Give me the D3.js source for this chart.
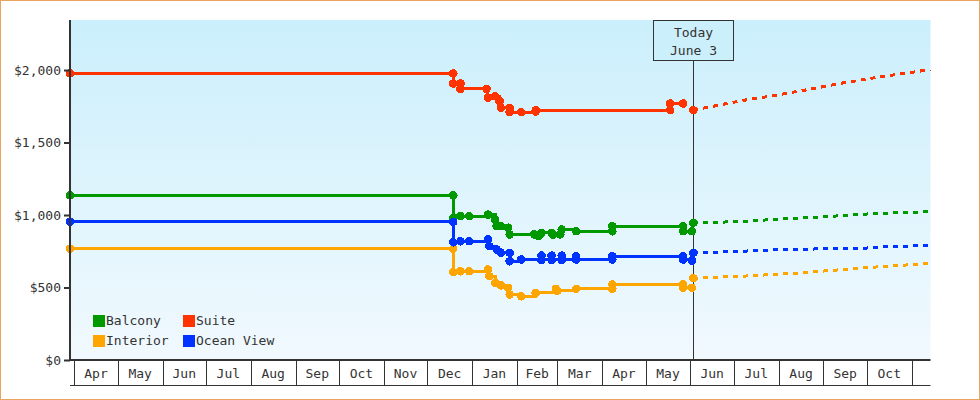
<!DOCTYPE html>
<html>
<head>
<meta charset="utf-8">
<script src="https://cdn.jsdelivr.net/npm/d3@7"></script>
<style>
    body { margin: 0; background: #fff; }
    text { font-family: "DejaVu Sans Mono", monospace; font-size: 13px; fill: #333; }
</style>
</head>
<body>
<div id="chart-area"></div>
<script>

// price history per cabin type: [date, price]
var balconyHistory = [
    ["2014-03-29", 1135], ["2014-12-19", 1135], ["2014-12-19", 981], ["2014-12-24", 992],
    ["2014-12-30", 992], ["2015-01-12", 1003], ["2015-01-17", 969], ["2015-01-18", 923],
    ["2015-01-21", 923], ["2015-01-26", 912], ["2015-01-27", 866], ["2015-02-13", 866],
    ["2015-02-16", 854], ["2015-02-18", 877], ["2015-02-25", 877], ["2015-02-26", 862],
    ["2015-03-03", 866], ["2015-03-04", 900], ["2015-03-14", 888], ["2015-04-08", 888],
    ["2015-04-08", 923], ["2015-05-27", 923], ["2015-05-27", 888], ["2015-06-02", 888]
];
var suiteHistory = [
    ["2014-03-29", 1976], ["2014-12-19", 1976], ["2014-12-19", 1907], ["2014-12-24", 1907],
    ["2014-12-24", 1870], ["2015-01-11", 1870], ["2015-01-12", 1808], ["2015-01-17", 1819],
    ["2015-01-20", 1786], ["2015-01-21", 1739], ["2015-01-27", 1739], ["2015-01-27", 1709],
    ["2015-02-04", 1709], ["2015-02-14", 1714], ["2015-02-14", 1723], ["2015-05-18", 1723],
    ["2015-05-18", 1769], ["2015-05-27", 1769]
];
var interiorHistory = [
    ["2014-03-29", 767], ["2014-12-19", 767], ["2014-12-19", 606], ["2014-12-24", 612],
    ["2014-12-30", 612], ["2015-01-12", 624], ["2015-01-13", 578], ["2015-01-17", 532],
    ["2015-01-21", 514], ["2015-01-26", 498], ["2015-01-27", 452], ["2015-02-04", 439],
    ["2015-02-14", 463], ["2015-02-28", 491], ["2015-03-01", 478], ["2015-03-14", 491],
    ["2015-04-08", 491], ["2015-04-08", 521], ["2015-05-27", 521], ["2015-05-27", 498],
    ["2015-06-02", 498]
];
var oceanViewHistory = [
    ["2014-03-29", 953], ["2014-12-19", 953], ["2014-12-19", 812], ["2014-12-24", 819],
    ["2014-12-30", 819], ["2015-01-12", 831], ["2015-01-13", 785], ["2015-01-18", 762],
    ["2015-01-21", 739], ["2015-01-27", 739], ["2015-01-27", 681], ["2015-02-04", 693],
    ["2015-02-18", 720], ["2015-02-18", 690], ["2015-02-25", 720], ["2015-02-25", 690],
    ["2015-03-04", 720], ["2015-03-04", 690], ["2015-03-14", 716], ["2015-03-14", 693],
    ["2015-04-08", 693], ["2015-04-08", 716], ["2015-05-27", 716], ["2015-05-27", 693],
    ["2015-06-02", 686]
];

// projected prices from today on
var balconyForecast = [
    ["2015-06-03", 946], ["2015-07-07", 955], ["2015-08-04", 974], ["2015-09-02", 988],
    ["2015-09-29", 1006], ["2015-11-14", 1024]
];
var suiteForecast = [
    ["2015-06-03", 1723], ["2015-07-07", 1790], ["2015-07-29", 1824], ["2015-08-19", 1861],
    ["2015-09-15", 1912], ["2015-10-13", 1957], ["2015-11-14", 2003]
];
var interiorForecast = [
    ["2015-06-03", 564], ["2015-07-07", 578], ["2015-07-29", 590], ["2015-08-19", 603],
    ["2015-09-08", 619], ["2015-09-29", 636], ["2015-10-20", 650], ["2015-11-14", 666]
];
var oceanViewForecast = [
    ["2015-06-03", 739], ["2015-07-06", 750], ["2015-08-04", 762], ["2015-09-29", 771],
    ["2015-10-13", 781], ["2015-11-14", 790]
];

var seriesNames = ["Balcony", "Suite", "Interior", "Ocean View"];
var seriesColors = ["#009900", "#ff3300", "#ffa500", "#0033ff"];
var yTicks = [0, 500, 1000, 1500, 2000];
var dateRange = ["2014-03-29", "2015-11-14"];
var today = "2015-06-03";
var todayLabel = ["Today", "June 3"];

var parseDate = d3.utcParse("%Y-%m-%d");

function toPoints(rows) {
    return rows.map(function(r) { return { date: parseDate(r[0]), price: r[1] }; });
}

var series = [
    { name: "Balcony", history: toPoints(balconyHistory), forecast: toPoints(balconyForecast) },
    { name: "Suite", history: toPoints(suiteHistory), forecast: toPoints(suiteForecast) },
    { name: "Interior", history: toPoints(interiorHistory), forecast: toPoints(interiorForecast) },
    { name: "Ocean View", history: toPoints(oceanViewHistory), forecast: toPoints(oceanViewForecast) }
];

var margin = { top: 20, right: 49.5, bottom: 40, left: 70 },
    width = 980 - margin.left - margin.right,
    height = 400 - margin.top - margin.bottom;

var color = d3.scaleOrdinal().domain(seriesNames).range(seriesColors);

var x = d3.scaleUtc()
    .domain([parseDate(dateRange[0]), parseDate(dateRange[1])])
    .range([0, width]);

var y = d3.scaleLinear()
    .domain([0, 2345])
    .range([height, 0]);

var root = d3.select("#chart-area")
    .append("svg")
    .attr("width", 980)
    .attr("height", 400);

var defs = root.append("defs");
var bgGradient = defs.append("linearGradient")
    .attr("id", "bg-gradient")
    .attr("x1", "0%").attr("y1", "0%")
    .attr("x2", "0%").attr("y2", "100%");
bgGradient.append("stop").attr("offset", "0%").attr("stop-color", "#cbeffc");
bgGradient.append("stop").attr("offset", "100%").attr("stop-color", "#f1f9fe");

var svg = root.append("g")
    .attr("transform", "translate(" + margin.left + "," + margin.top + ")");

svg.append("rect")
    .attr("x", 0)
    .attr("y", 0)
    .attr("width", width)
    .attr("height", height)
    .attr("fill", "url(#bg-gradient)");

// today marker line
var todayX = Math.round(x(parseDate(today))) + 0.5;
svg.append("line")
    .attr("x1", todayX).attr("x2", todayX)
    .attr("y1", 40.5).attr("y2", height)
    .attr("stroke", "#333")
    .attr("stroke-width", 1);

var stepLine = d3.line()
    .curve(d3.curveStepAfter)
    .x(function(d) { return x(d.date); })
    .y(function(d) { return y(d.price); });

var forecastLine = d3.line()
    .x(function(d) { return x(d.date); })
    .y(function(d) { return y(d.price); });

var groups = svg.selectAll(".series")
    .data(series)
    .enter().append("g")
    .attr("class", "series");

groups.append("path")
    .attr("d", function(d) { return forecastLine(d.forecast); })
    .attr("fill", "none")
    .attr("stroke", function(d) { return color(d.name); })
    .attr("stroke-width", 3)
    .attr("stroke-dasharray", "5,5")
    .style("shape-rendering", "crispEdges");

groups.append("path")
    .attr("d", function(d) { return stepLine(d.history); })
    .attr("fill", "none")
    .attr("stroke", function(d) { return color(d.name); })
    .attr("stroke-width", 3)
    .style("shape-rendering", "crispEdges");

groups.selectAll("circle")
    .data(function(d) {
        return d.history.concat([d.forecast[0]]).map(function(p) {
            return { date: p.date, price: p.price, name: d.name };
        });
    })
    .enter().append("circle")
    .attr("cx", function(d) { return x(d.date); })
    .attr("cy", function(d) { return y(d.price); })
    .attr("r", 4.3)
    .attr("fill", function(d) { return color(d.name); })
    .style("shape-rendering", "crispEdges");

// today box
var todayBox = svg.append("g")
    .attr("transform", "translate(" + todayX + ",0)");
todayBox.append("rect")
    .attr("x", -40)
    .attr("y", 0.5)
    .attr("width", 80)
    .attr("height", 40)
    .attr("fill", "#cceffc")
    .attr("stroke", "#333")
    .attr("stroke-width", 1);
todayBox.selectAll("text")
    .data(todayLabel)
    .enter().append("text")
    .attr("x", 0)
    .attr("y", function(d, i) { return 17 + i * 18; })
    .attr("text-anchor", "middle")
    .text(function(d) { return d; });

// y axis
var yAxis = d3.axisLeft(y)
    .tickValues(yTicks)
    .tickSize(6)
    .tickPadding(3)
    .tickFormat(function(d) { return "$" + d3.format(",")(d); });

var yAxisG = svg.append("g")
    .call(yAxis);
yAxisG.select(".domain").remove();
yAxisG.selectAll(".tick line").attr("stroke", "#333").attr("stroke-width", 2);
yAxisG.selectAll("text")
    .attr("fill", "#333")
    .style("font-family", "'DejaVu Sans Mono', monospace")
    .style("font-size", "13px");

svg.append("line")
    .attr("x1", 0).attr("x2", 0)
    .attr("y1", 0).attr("y2", height + 1)
    .attr("stroke", "#333")
    .attr("stroke-width", 2);

// x axis: month boxes
var months = d3.utcMonth.range(d3.utcMonth.ceil(x.domain()[0]), x.domain()[1]);

var xAxisG = svg.append("g")
    .attr("transform", "translate(0," + height + ")");

xAxisG.append("line")
    .attr("x1", 0).attr("x2", width)
    .attr("y1", 0).attr("y2", 0)
    .attr("stroke", "#333")
    .attr("stroke-width", 2);

xAxisG.append("line")
    .attr("x1", 0).attr("x2", width)
    .attr("y1", 25.5).attr("y2", 25.5)
    .attr("stroke", "#333")
    .attr("stroke-width", 1);

xAxisG.selectAll(".month-sep")
    .data(months)
    .enter().append("line")
    .attr("class", "month-sep")
    .attr("x1", function(d) { return Math.round(x(d)) + 0.5; })
    .attr("x2", function(d) { return Math.round(x(d)) + 0.5; })
    .attr("y1", 1)
    .attr("y2", 25)
    .attr("stroke", "#333")
    .attr("stroke-width", 1);

xAxisG.selectAll(".month-label")
    .data(months.slice(0, -1))
    .enter().append("text")
    .attr("class", "month-label")
    .attr("x", function(d) { return (x(d) + x(d3.utcMonth.offset(d, 1))) / 2; })
    .attr("y", 18)
    .attr("text-anchor", "middle")
    .text(function(d) { return d3.utcFormat("%b")(d); });

// legend
var legend = svg.selectAll(".legend")
    .data(seriesNames)
    .enter().append("g")
    .attr("class", "legend")
    .attr("transform", function(d, i) {
        return "translate(" + (23 + (i % 2) * 90) + "," + (295 + Math.floor(i / 2) * 20) + ")";
    });

legend.append("rect")
    .attr("width", 12)
    .attr("height", 12)
    .attr("fill", function(d) { return color(d); });

legend.append("text")
    .attr("x", 13)
    .attr("y", 10)
    .text(function(d) { return d; });

// outer frame
root.append("rect")
    .attr("x", 0.5)
    .attr("y", 0.5)
    .attr("width", 979)
    .attr("height", 399)
    .attr("fill", "none")
    .attr("stroke", "#e9a55f")
    .attr("stroke-width", 1);

</script>
</body>
</html>
